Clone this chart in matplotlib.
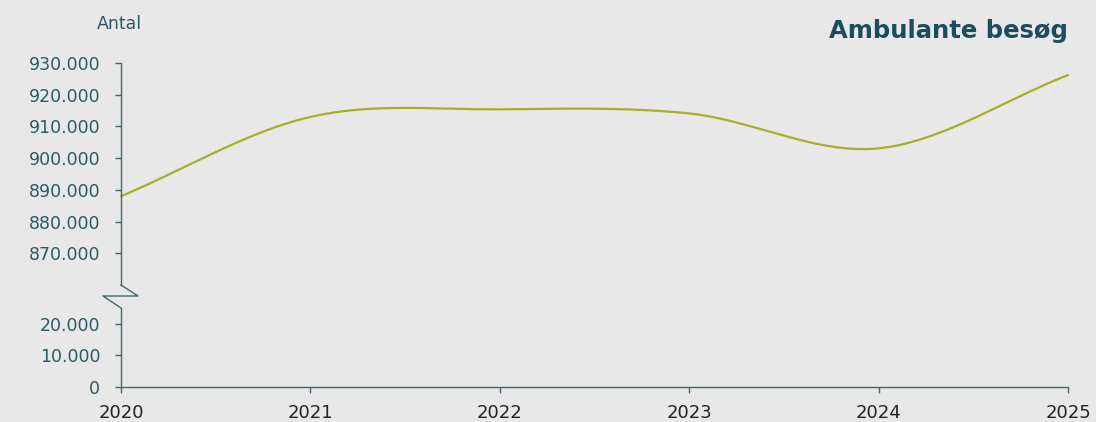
import numpy as np
import matplotlib.pyplot as plt
from matplotlib.lines import Line2D
from matplotlib.ticker import FuncFormatter

# annual values
years = [2020, 2021, 2022, 2023, 2024, 2025]
visits = [888000, 913000, 915400, 914100, 903100, 926200]

upper_ticks = [870000, 880000, 890000, 900000, 910000, 920000, 930000]
lower_ticks = [0, 10000, 20000]

BG = '#e8e8e8'
TEAL = '#2b5a66'
AXIS = '#3f6872'
LINE = '#a9ae28'


def spline(x, y, n=40):
    # Catmull-Rom style smoothing, like the original spline line
    x = np.asarray(x, float)
    y = np.asarray(y, float)
    m = np.zeros_like(y)
    m[1:-1] = (y[2:] - y[:-2]) / (x[2:] - x[:-2])
    m[0] = (y[1] - y[0]) / (x[1] - x[0])
    m[-1] = (y[-1] - y[-2]) / (x[-1] - x[-2])
    xs, ys = [], []
    for i in range(len(x) - 1):
        h = x[i + 1] - x[i]
        t = np.linspace(0, 1, n, endpoint=(i == len(x) - 2))
        h00 = 2 * t**3 - 3 * t**2 + 1
        h10 = t**3 - 2 * t**2 + t
        h01 = -2 * t**3 + 3 * t**2
        h11 = t**3 - t**2
        xs.append(x[i] + t * h)
        ys.append(h00 * y[i] + h10 * h * m[i] + h01 * y[i + 1] + h11 * h * m[i + 1])
    return np.concatenate(xs), np.concatenate(ys)


fmt = FuncFormatter(lambda v, p: f"{v:,.0f}".replace(',', '.'))

fig = plt.figure(figsize=(10.96, 4.22), dpi=100)
fig.patch.set_facecolor(BG)

ax_top = fig.add_axes([0.1104, 0.3246, 0.8641, 0.5261])
ax_bot = fig.add_axes([0.1104, 0.0829, 0.8641, 0.1872])

for ax in (ax_top, ax_bot):
    ax.set_facecolor('none')
    ax.set_xlim(2020, 2025)
    for s in ('top', 'right'):
        ax.spines[s].set_visible(False)
    ax.spines['left'].set_color(AXIS)
    ax.spines['left'].set_linewidth(1.0)
    ax.yaxis.set_major_formatter(fmt)
    ax.tick_params(axis='y', length=4.5, width=1.0, color=AXIS, labelcolor=TEAL,
                   labelsize=12.5, pad=10.5)

ax_top.set_ylim(860000, 930000)
ax_top.set_yticks(upper_ticks)
ax_top.spines['bottom'].set_visible(False)
ax_top.tick_params(axis='x', bottom=False, labelbottom=False)

ax_bot.set_ylim(0, 25000)
ax_bot.set_yticks(lower_ticks)
ax_bot.spines['bottom'].set_color(AXIS)
ax_bot.spines['bottom'].set_linewidth(1.0)
ax_bot.set_xticks(years)
ax_bot.set_xticklabels([str(y) for y in years])
ax_bot.tick_params(axis='x', length=4.5, width=1.0, color=AXIS, labelcolor='#222222',
                   labelsize=13, pad=7.5)

sx, sy = spline(years, visits)
ax_top.plot(sx, sy, color=LINE, linewidth=1.6, solid_capstyle='round', clip_on=False)

# axis break zigzag (figure pixels -> fractions)
W, H = 1096, 422
zx = [121, 138, 103, 121]
zy = [285, 296, 296, 308]
fig.add_artist(Line2D([v / W for v in zx], [1 - v / H for v in zy],
                      transform=fig.transFigure, color=AXIS, linewidth=1.0))

fig.text(97 / W, 1 - 24 / H, 'Antal', color=TEAL, fontsize=12.5, va='center', ha='left')
fig.text(1068 / W, 1 - 31 / H, 'Ambulante besøg', color='#1d4d5a', fontsize=17.5,
         fontweight='bold', va='center', ha='right')

fig.savefig('out.png', dpi=100, facecolor=BG)
